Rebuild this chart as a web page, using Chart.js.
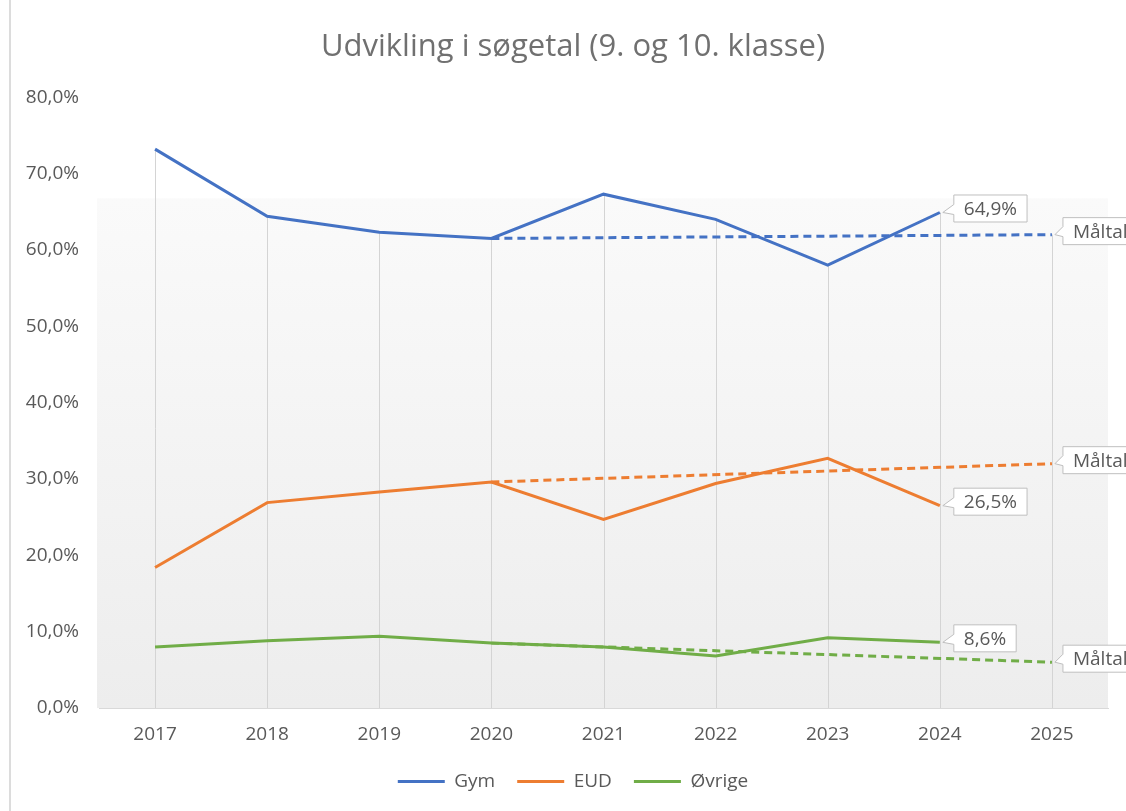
<!DOCTYPE html>
<html>
<head>
<meta charset="utf-8">
<script src="https://cdn.jsdelivr.net/npm/chart.js@4"></script>
<style>
  html, body { margin: 0; padding: 0; background: #ffffff; }
  #wrap { position: relative; width: 1126px; height: 811px; overflow: hidden; }
  #edge { position: absolute; left: 9px; top: 0; width: 2px; height: 811px; background: #dcdcdc; }
  canvas { position: absolute; left: 0; top: 0; }
</style>
</head>
<body>
<div id="wrap">
  <canvas id="c" width="1146" height="811"></canvas>
  <div id="edge"></div>
</div>
<script>
const years = ['2017', '2018', '2019', '2020', '2021', '2022', '2023', '2024', '2025'];
const gym = [73.2, 64.4, 62.3, 61.5, 67.3, 64.0, 58.0, 64.9, null];
const eud = [18.4, 26.9, 28.3, 29.6, 24.7, 29.4, 32.7, 26.5, null];
const ovrige = [8.0, 8.8, 9.4, 8.5, 8.0, 6.8, 9.2, 8.6, null];
const gymTarget = [null, null, null, 61.5, null, null, null, null, 62.0];
const eudTarget = [null, null, null, 29.6, null, null, null, null, 32.0];
const ovrigeTarget = [null, null, null, 8.5, null, null, null, null, 6.0];
const yTicks = [0, 10, 20, 30, 40, 50, 60, 70, 80];
const seriesNames = ['Gym', 'EUD', 'Øvrige'];
const targetLabel = 'Måltal';

const colors = ['#4472C4', '#ED7D31', '#70AD47'];
const textColor = '#595959';
const fontFam = '"Open Sans", "DejaVu Sans", sans-serif';

function fmt(v) { return v.toFixed(1).replace('.', ',') + '%'; }

const mainSets = [gym, eud, ovrige].map((d, i) => ({
  label: seriesNames[i], data: d, borderColor: colors[i], backgroundColor: colors[i],
  borderWidth: 3, pointRadius: 0, tension: 0, fill: false, isTarget: false, yAxisID: 'y'
}));
const targetSets = [gymTarget, eudTarget, ovrigeTarget].map((d, i) => ({
  label: targetLabel + ' ' + seriesNames[i], data: d, borderColor: colors[i], backgroundColor: colors[i],
  borderWidth: 3, borderDash: [8, 5], pointRadius: 0, tension: 0, fill: false, spanGaps: true, isTarget: true, yAxisID: 'y'
}));

const bgPlugin = {
  id: 'bgBand',
  beforeDatasetsDraw(chart) {
    const {ctx, chartArea: a} = chart;
    const top = a.top + (a.bottom - a.top) * 0.1656;
    const g = ctx.createLinearGradient(0, top, 0, a.bottom);
    g.addColorStop(0, '#fafafa');
    g.addColorStop(1, '#ededed');
    ctx.save();
    ctx.fillStyle = g;
    ctx.fillRect(a.left - 2, top, a.right - a.left + 2, a.bottom - top);
    const xs = chart.scales.x, ys = chart.scales.y;
    ctx.strokeStyle = '#d4d4d4';
    ctx.lineWidth = 1;
    years.forEach((yr, i) => {
      let m = null;
      chart.data.datasets.forEach(ds => {
        const v = ds.data[i];
        if (v !== null && v !== undefined && (m === null || v > m)) m = v;
      });
      if (m === null) return;
      const x = Math.round(xs.getPixelForValue(i)) + 0.5;
      ctx.beginPath();
      ctx.moveTo(x, ys.getPixelForValue(m));
      ctx.lineTo(x, a.bottom);
      ctx.stroke();
    });
    ctx.restore();
  }
};

function callout(ctx, px, py, text, dx, dy) {
  ctx.font = '19px ' + fontFam;
  const w = ctx.measureText(text).width + 20;
  const h = 27;
  const bx = px + dx, by = py + dy - h / 2;
  let ty = Math.min(Math.max(py, by + 6), by + h - 1);
  const y1 = Math.max(by, ty - 8), y2 = Math.min(by + h, ty + 2);
  ctx.beginPath();
  ctx.moveTo(bx, by);
  ctx.lineTo(bx + w, by);
  ctx.lineTo(bx + w, by + h);
  ctx.lineTo(bx, by + h);
  ctx.lineTo(bx, y2);
  ctx.lineTo(px + 3, py);
  ctx.lineTo(bx, y1);
  ctx.closePath();
  ctx.fillStyle = '#ffffff';
  ctx.fill();
  ctx.strokeStyle = '#bfbfbf';
  ctx.lineWidth = 1;
  ctx.stroke();
  ctx.fillStyle = textColor;
  ctx.textAlign = 'center';
  ctx.textBaseline = 'middle';
  ctx.fillText(text, bx + w / 2, by + h / 2 + 1);
}

const labelPlugin = {
  id: 'callouts',
  afterDatasetsDraw(chart) {
    const {ctx} = chart;
    const xs = chart.scales.x, ys = chart.scales.y;
    ctx.save();
    chart.data.datasets.forEach(ds => {
      let last = -1;
      ds.data.forEach((v, i) => { if (v !== null) last = i; });
      if (last < 0) return;
      const v = ds.data[last];
      const px = xs.getPixelForValue(last), py = ys.getPixelForValue(v);
      if (ds.isTarget) callout(ctx, px, py, targetLabel, 11, -3.5);
      else callout(ctx, px, py, fmt(v), 14, -4);
    });
    ctx.restore();
  }
};

new Chart(document.getElementById('c'), {
  type: 'line',
  data: { labels: years, datasets: [...mainSets, ...targetSets] },
  options: {
    responsive: false,
    animation: false,
    devicePixelRatio: 1,
    layout: { padding: { left: 0, right: 0, top: 0, bottom: 10 } },
    plugins: {
      title: {
        display: true,
        text: 'Udvikling i søgetal (9. og 10. klasse)',
        color: '#707070',
        font: { family: fontFam, size: 31, weight: 'normal' },
        padding: { top: 29, bottom: 31 }
      },
      legend: {
        position: 'bottom',
        labels: {
          color: textColor,
          font: { family: fontFam, size: 19 },
          boxWidth: 47,
          boxHeight: 3,
          padding: 22,
          filter: (item, data) => !data.datasets[item.datasetIndex].isTarget,
          generateLabels: (chart) => Chart.defaults.plugins.legend.labels.generateLabels(chart).map(l => Object.assign(l, { lineWidth: 0, lineDash: [] }))
        }
      },
      tooltip: { enabled: false }
    },
    scales: {
      x: {
        offset: true,
        grid: { display: false, drawTicks: false },
        border: { display: true, color: '#d9d9d9', width: 1 },
        ticks: { color: textColor, font: { family: fontFam, size: 19 }, padding: 15, maxRotation: 0 },
        afterFit: (s) => { s.height = 42; }
      },
      y: {
        position: 'left',
        min: 0, max: 80,
        afterBuildTicks: (s) => { s.ticks = yTicks.map(v => ({ value: v })); },
        grid: { display: false, drawTicks: false },
        border: { display: false },
        ticks: { color: textColor, font: { family: fontFam, size: 19 }, padding: 20, callback: (v) => fmt(v) },
        afterFit: (s) => { s.width = 99; }
      },
      yRight: {
        position: 'right',
        display: true,
        min: 0, max: 80,
        grid: { display: false, drawTicks: false },
        border: { display: false },
        ticks: { display: false },
        afterFit: (s) => { s.width = 38; }
      }
    }
  },
  plugins: [bgPlugin, labelPlugin]
});
</script>
</body>
</html>
